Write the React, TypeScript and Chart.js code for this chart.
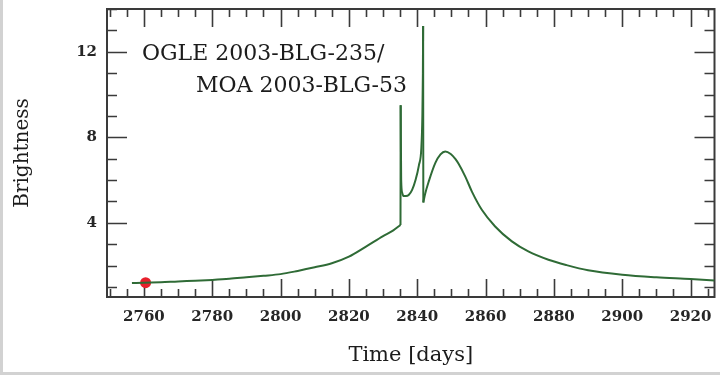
import React, { useEffect, useRef } from "react";
import { Chart, registerables } from "chart.js";

Chart.register(...registerables);

// Time (days) and brightness
const days = [
  2756.5, 2760, 2765, 2770, 2775, 2780, 2785, 2790, 2795, 2800, 2805, 2810, 2815, 2820, 2825, 2830, 2833,
  2835.1, 2835.15, 2835.3, 2835.6, 2836, 2836.7, 2837.5, 2838.5, 2839.5, 2840.5, 2841.2, 2841.5, 2841.65,
  2841.72, 2841.78, 2842.3, 2843.4, 2845.3, 2846.8, 2848.2, 2849.8, 2851.2, 2852.1, 2854.1, 2856, 2858.9,
  2862.8, 2867.7, 2872.5, 2878.4, 2883.7, 2890, 2900, 2910, 2920, 2927,
];
const brightness = [
  1.18, 1.2, 1.22, 1.26, 1.29, 1.33, 1.38, 1.45, 1.52, 1.6, 1.75, 1.92, 2.11, 2.42, 2.89, 3.38, 3.65,
  3.9, 9.5, 6.0, 5.4, 5.25, 5.25, 5.3, 5.54, 6.0, 6.7, 7.5, 9.0, 11.0,
  13.2, 4.95, 5.35, 5.95, 6.8, 7.2, 7.34, 7.22, 6.98, 6.76, 6.15, 5.46, 4.61,
  3.83, 3.13, 2.66, 2.27, 2.02, 1.78, 1.57, 1.45, 1.37, 1.3,
];
// Marked observation
const markerDay = [2760.5];
const markerBrightness = [1.2];

const xMin = 2749.2;
const xMax = 2927;
const yMin = 0.53;
const yMax = 14;
const xMajorStep = 20;
const xMinorStep = 5;
const yMajorStep = 4;
const yMinorStep = 1;

const labelLine1 = "OGLE 2003-BLG-235/";
const labelLine2 = "MOA 2003-BLG-53";
const xTitle = "Time [days]";
const yTitle = "Brightness";

const SERIF = '"DejaVu Serif", "Liberation Serif", serif';
const INK = "#262626";
const CURVE = "#2f6b36";

// split the curve at the caustic jumps so each smooth piece is interpolated on its own
function curveSegments() {
  const segs: { x: number; y: number }[][] = [];
  let cur: { x: number; y: number }[] = [];
  for (let i = 0; i < days.length; i++) {
    const p = { x: days[i], y: brightness[i] };
    if (i > 0 && days[i] - days[i - 1] < 0.1) {
      const prev = { x: days[i - 1], y: brightness[i - 1] };
      segs.push(cur);
      segs.push([prev, p]);
      cur = [p];
    } else {
      cur.push(p);
    }
  }
  segs.push(cur);
  return segs.filter((s) => s.length > 1);
}

const framePlugin = {
  id: "framePlugin",
  beforeDraw(chart: any) {
    const { ctx, width, height } = chart;
    ctx.save();
    ctx.fillStyle = "#ffffff";
    ctx.fillRect(0, 0, width, height);
    ctx.fillStyle = "#d2d2d2";
    ctx.fillRect(0, 0, 3, height);
    ctx.fillRect(0, height - 3, width, 3);
    ctx.restore();
  },
  beforeDatasetsDraw(chart: any) {
    const { ctx, chartArea: a, scales } = chart;
    const xs = scales.x;
    const ys = scales.y;
    ctx.save();
    ctx.strokeStyle = "#3a3a3a";
    ctx.lineWidth = 1.6;
    ctx.beginPath();
    const startX = Math.ceil(xMin / xMinorStep) * xMinorStep;
    for (let v = startX; v <= xMax + 1e-9; v += xMinorStep) {
      const px = Math.round(xs.getPixelForValue(v)) + 0.5;
      const major = Math.abs(v / xMajorStep - Math.round(v / xMajorStep)) < 1e-6;
      const len = major ? 18 : 8;
      ctx.moveTo(px, a.bottom);
      ctx.lineTo(px, a.bottom - len);
      ctx.moveTo(px, a.top);
      ctx.lineTo(px, a.top + len);
    }
    const startY = Math.ceil(yMin / yMinorStep) * yMinorStep;
    for (let v = startY; v <= yMax + 1e-9; v += yMinorStep) {
      const py = Math.round(ys.getPixelForValue(v)) + 0.5;
      const major = Math.abs(v / yMajorStep - Math.round(v / yMajorStep)) < 1e-6;
      const len = major ? 20 : 10;
      ctx.moveTo(a.left, py);
      ctx.lineTo(a.left + len, py);
      ctx.moveTo(a.right, py);
      ctx.lineTo(a.right - len, py);
    }
    ctx.stroke();
    ctx.lineWidth = 2;
    ctx.strokeRect(a.left, a.top, a.right - a.left, a.bottom - a.top);
    ctx.restore();
  },
  afterDraw(chart: any) {
    const { ctx, chartArea: a } = chart;
    ctx.save();
    ctx.fillStyle = "#1c1c1c";
    ctx.font = `22px ${SERIF}`;
    ctx.textBaseline = "alphabetic";
    ctx.textAlign = "left";
    ctx.fillText(labelLine1, a.left + 35, a.top + 51);
    ctx.textAlign = "right";
    ctx.fillText(labelLine2, a.left + 300, a.top + 83);
    ctx.restore();
  },
};

export default function App() {
  const ref = useRef<HTMLCanvasElement | null>(null);

  useEffect(() => {
    const canvas = ref.current;
    if (!canvas) return;
    const curveSets = curveSegments().map((seg) => ({
      data: seg,
      borderColor: CURVE,
      borderWidth: 2,
      pointRadius: 0,
      cubicInterpolationMode: "monotone",
      fill: false,
    }));
    const chart = new Chart(canvas, {
      type: "line",
      data: {
        datasets: [
          ...curveSets,
          {
            data: markerDay.map((d, i) => ({ x: d, y: markerBrightness[i] })),
            showLine: false,
            pointRadius: 5.5,
            pointBackgroundColor: "#e8202c",
            pointBorderColor: "#e8202c",
            pointBorderWidth: 0,
          },
        ],
      } as any,
      options: {
        responsive: false,
        animation: false,
        devicePixelRatio: 1,
        layout: { padding: { left: 0, right: 2, top: 9, bottom: 0 } },
        plugins: { legend: { display: false }, tooltip: { enabled: false } },
        scales: {
          x: {
            type: "linear",
            position: "bottom",
            min: xMin,
            max: xMax,
            border: { display: false },
            grid: { display: false, drawTicks: false },
            ticks: {
              stepSize: xMajorStep,
              includeBounds: false,
              autoSkip: false,
              maxRotation: 0,
              padding: 11,
              color: INK,
              font: { family: SERIF, size: 15, weight: "bold" },
              callback: (v: any) => String(v),
            },
            title: {
              display: true,
              text: xTitle,
              color: "#1c1c1c",
              font: { family: SERIF, size: 21 },
              padding: { top: 0, bottom: 7 },
            },
            afterFit: (s: any) => {
              s.height = 78;
              s.paddingLeft = 0;
              s.paddingRight = 0;
            },
          },
          y: {
            type: "linear",
            position: "left",
            min: yMin,
            max: yMax,
            border: { display: false },
            grid: { display: false, drawTicks: false },
            ticks: {
              stepSize: yMajorStep,
              includeBounds: false,
              autoSkip: false,
              padding: 10,
              color: INK,
              font: { family: SERIF, size: 15, weight: "bold" },
              callback: (v: any) => String(v),
            },
            title: {
              display: true,
              text: yTitle,
              color: "#1c1c1c",
              font: { family: SERIF, size: 20 },
              padding: { top: 11, bottom: 0 },
            },
            afterFit: (s: any) => {
              s.width = 107;
              s.paddingTop = 0;
              s.paddingBottom = 0;
            },
          },
        },
      } as any,
      plugins: [framePlugin],
    });
    return () => chart.destroy();
  }, []);

  return (
    <div style={{ position: "fixed", left: 0, top: 0, width: 720, height: 375 }}>
      <canvas ref={ref} width={720} height={375} style={{ display: "block" }} />
    </div>
  );
}
